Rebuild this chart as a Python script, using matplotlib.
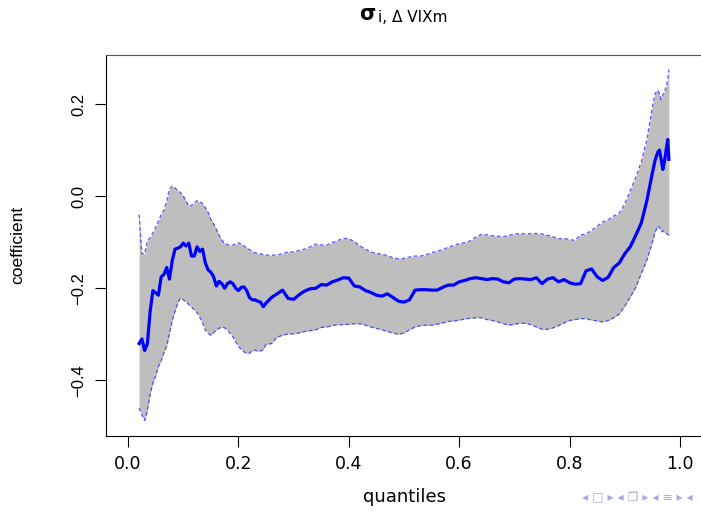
import matplotlib
matplotlib.use("Agg")
import matplotlib.pyplot as plt

plt.rcParams['font.family'] = ['Liberation Sans', 'DejaVu Sans']

# quantile grid
quantiles = [
    0.020, 0.025, 0.030, 0.035, 0.040, 0.045, 0.050, 0.055, 0.060, 0.065,
    0.070, 0.075, 0.080, 0.085, 0.090, 0.095, 0.100, 0.105, 0.110, 0.115,
    0.120, 0.125, 0.130, 0.135, 0.140, 0.145, 0.150, 0.155, 0.160, 0.165,
    0.170, 0.175, 0.180, 0.185, 0.190, 0.195, 0.200, 0.205, 0.210, 0.215,
    0.220, 0.225, 0.230, 0.235, 0.240, 0.245, 0.250,
    0.26, 0.27, 0.28, 0.29, 0.30, 0.31, 0.32, 0.33, 0.34, 0.35,
    0.36, 0.37, 0.38, 0.39, 0.40, 0.41, 0.42, 0.43, 0.44, 0.45,
    0.46, 0.47, 0.48, 0.49, 0.50, 0.51, 0.52, 0.53, 0.54, 0.55,
    0.56, 0.57, 0.58, 0.59, 0.60, 0.61, 0.62, 0.63, 0.64, 0.65,
    0.66, 0.67, 0.68, 0.69, 0.70, 0.71, 0.72, 0.73, 0.74, 0.75,
    0.76, 0.77, 0.78, 0.79, 0.80, 0.81, 0.82, 0.83, 0.84, 0.85,
    0.86, 0.87, 0.88, 0.89, 0.90, 0.91, 0.92, 0.93, 0.94,
    0.950, 0.955, 0.960, 0.963, 0.966, 0.969, 0.972, 0.975, 0.978, 0.980,
]

# estimated coefficient
coef = [
    -0.320, -0.310, -0.335, -0.320, -0.250, -0.205, -0.210, -0.215, -0.175, -0.170,
    -0.155, -0.180, -0.140, -0.115, -0.113, -0.110, -0.102, -0.108, -0.102, -0.130,
    -0.130, -0.110, -0.120, -0.115, -0.145, -0.160, -0.165, -0.175, -0.195, -0.185,
    -0.190, -0.200, -0.190, -0.186, -0.190, -0.200, -0.205, -0.198, -0.197, -0.205,
    -0.220, -0.225, -0.225, -0.228, -0.230, -0.240, -0.232,
    -0.220, -0.212, -0.204, -0.222, -0.224, -0.214, -0.206, -0.201, -0.200, -0.192,
    -0.193, -0.186, -0.182, -0.177, -0.178, -0.195, -0.197, -0.205, -0.209, -0.215,
    -0.217, -0.212, -0.220, -0.228, -0.230, -0.225, -0.204, -0.203, -0.203, -0.204,
    -0.204, -0.198, -0.193, -0.193, -0.186, -0.183, -0.179, -0.177, -0.179, -0.181,
    -0.179, -0.180, -0.186, -0.188, -0.180, -0.179, -0.180, -0.181, -0.177, -0.190,
    -0.180, -0.177, -0.186, -0.181, -0.188, -0.191, -0.190, -0.162, -0.158, -0.175,
    -0.183, -0.176, -0.155, -0.145, -0.125, -0.110, -0.085, -0.058, -0.010,
    0.050, 0.078, 0.096, 0.100, 0.080, 0.058, 0.075, 0.100, 0.123, 0.080,
]

# upper band
upper = [
    -0.040, -0.125, -0.125, -0.097, -0.090, -0.080, -0.067, -0.055, -0.040, -0.030,
    -0.010, 0.015, 0.022, 0.018, 0.012, 0.008, 0.000, -0.010, -0.022, -0.020,
    -0.014, -0.010, -0.012, -0.016, -0.025, -0.035, -0.050, -0.060, -0.072, -0.085,
    -0.095, -0.103, -0.105, -0.107, -0.106, -0.104, -0.101, -0.104, -0.108, -0.112,
    -0.116, -0.120, -0.123, -0.124, -0.125, -0.127, -0.128,
    -0.128, -0.128, -0.125, -0.121, -0.121, -0.118, -0.115, -0.110, -0.104, -0.106,
    -0.106, -0.101, -0.096, -0.092, -0.092, -0.099, -0.108, -0.115, -0.121, -0.124,
    -0.126, -0.129, -0.134, -0.136, -0.135, -0.132, -0.130, -0.130, -0.127, -0.123,
    -0.119, -0.116, -0.111, -0.107, -0.103, -0.101, -0.097, -0.089, -0.083, -0.084,
    -0.086, -0.087, -0.088, -0.085, -0.082, -0.081, -0.082, -0.081, -0.081, -0.082,
    -0.085, -0.088, -0.092, -0.092, -0.094, -0.096, -0.084, -0.082, -0.074, -0.065,
    -0.056, -0.051, -0.043, -0.037, -0.017, 0.012, 0.041, 0.075, 0.122,
    0.194, 0.223, 0.230, 0.222, 0.210, 0.220, 0.228, 0.236, 0.255, 0.275,
]

# lower band
lower = [
    -0.460, -0.475, -0.487, -0.465, -0.430, -0.405, -0.390, -0.370, -0.357, -0.340,
    -0.325, -0.299, -0.270, -0.250, -0.232, -0.221, -0.225, -0.230, -0.235, -0.241,
    -0.247, -0.253, -0.263, -0.275, -0.291, -0.298, -0.302, -0.296, -0.290, -0.287,
    -0.284, -0.286, -0.291, -0.298, -0.306, -0.316, -0.326, -0.333, -0.338, -0.341,
    -0.341, -0.336, -0.334, -0.337, -0.336, -0.333, -0.322,
    -0.320, -0.306, -0.302, -0.299, -0.299, -0.297, -0.294, -0.292, -0.290, -0.285,
    -0.284, -0.281, -0.279, -0.279, -0.278, -0.277, -0.277, -0.280, -0.284, -0.287,
    -0.290, -0.294, -0.297, -0.300, -0.297, -0.290, -0.284, -0.281, -0.280, -0.280,
    -0.278, -0.275, -0.272, -0.271, -0.269, -0.267, -0.265, -0.264, -0.264, -0.268,
    -0.270, -0.273, -0.277, -0.280, -0.278, -0.276, -0.276, -0.279, -0.284, -0.289,
    -0.289, -0.286, -0.281, -0.275, -0.270, -0.268, -0.266, -0.266, -0.269, -0.271,
    -0.273, -0.270, -0.264, -0.256, -0.239, -0.219, -0.198, -0.168, -0.139,
    -0.100, -0.078, -0.065, -0.068, -0.077, -0.075, -0.080, -0.081, -0.083, -0.085,
]

x_ticks = [0.0, 0.2, 0.4, 0.6, 0.8, 1.0]
x_labels = ['0.0', '0.2', '0.4', '0.6', '0.8', '1.0']
y_ticks = [-0.4, -0.2, 0.0, 0.2]
y_labels = ['\u22120.4', '\u22120.2', '0.0', '0.2']

W, H = 701, 513
fig = plt.figure(figsize=(W / 100, H / 100), dpi=100)
ax = fig.add_axes([106 / W, 1 - 435.5 / H, 596 / W, 380.5 / H])

ax.fill_between(quantiles, lower, upper, color='#bebebe', lw=0)
ax.plot(quantiles, upper, color='#3030ff', lw=0.9, ls=(0, (3, 2)), alpha=0.8)
ax.plot(quantiles, lower, color='#3030ff', lw=0.9, ls=(0, (3, 2)), alpha=0.8)
ax.plot(quantiles, coef, color='#0000ff', lw=2.3)

ax.set_xlim(-0.04, 1.04)
ax.set_ylim(-0.5196, 0.3065)
ax.set_xticks(x_ticks)
ax.set_xticklabels(x_labels, family=['DejaVu Sans'], fontsize=12.5)
ax.set_yticks(y_ticks)
ax.set_yticklabels(y_labels, rotation=90, va='center', fontsize=12)
ax.tick_params(direction='out', length=8, width=0.8, pad=6, colors='black')
for s in ax.spines.values():
    s.set_linewidth(0.8)
ax.spines['top'].set_color('#555555')

# title: sigma with subscript
fig.text(359 / W, 1 - 14 / H, '\u03c3', ha='left', va='center', fontsize=15,
         weight='bold', family=['DejaVu Sans'])
fig.text(378 / W, 1 - 17 / H, 'i, \u0394 VIXm', ha='left', va='center', fontsize=11, family=['DejaVu Sans'])

fig.text(404 / W, 1 - 497 / H, 'quantiles', ha='center', va='center', fontsize=13, family=['DejaVu Sans'])
fig.text(18 / W, 1 - 245 / H, 'coefficient', ha='center', va='center', rotation=90, fontsize=12.5)

# beamer navigation symbols
fig.text(582 / W, 1 - 498 / H, '\u25c2 \u25a1 \u25b8 \u25c2 \u2750 \u25b8 \u25c2 \u2261 \u25b8 \u25c2',
         ha='left', va='center', fontsize=8.8, color='#a8a8dc', family=['DejaVu Sans'])

fig.savefig('out.png', dpi=100)
